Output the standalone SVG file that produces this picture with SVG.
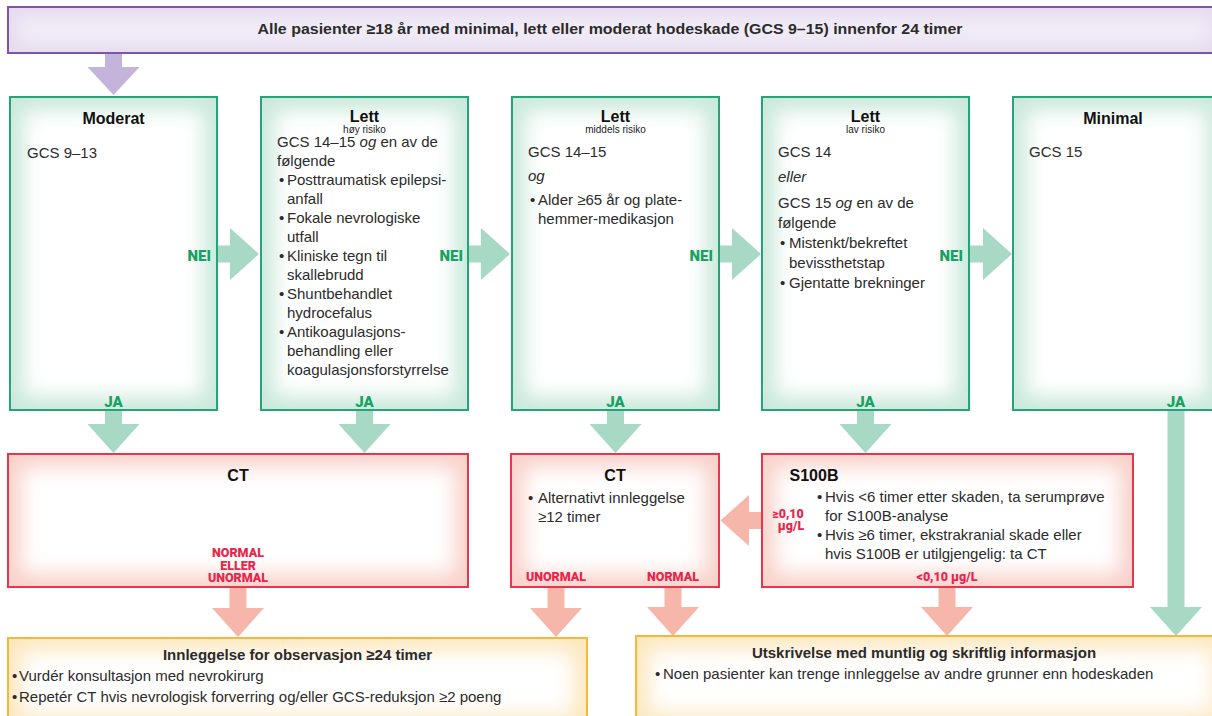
<svg xmlns="http://www.w3.org/2000/svg" width="1212" height="716" viewBox="0 0 1212 716">
<style>
text{font-family:"Liberation Sans",Arial,sans-serif;fill:#2b2b2b;font-size:15px}
.t{font-weight:bold;font-size:16px;fill:#111;text-anchor:middle}
.sub{font-size:10px;fill:#222;text-anchor:middle}
.i{font-style:italic}
.g{font-family:Roboto,"Liberation Sans",sans-serif;font-weight:900;fill:#17a262;font-size:15px}
.r{font-family:Roboto,"Liberation Sans",sans-serif;font-weight:900;fill:#e8254d;font-size:12.5px;text-anchor:middle}
.bg{fill:#c9e9db;filter:url(#ig)}
.br{fill:#f9d2ca;filter:url(#ig)}
.by{fill:#fce8bd;filter:url(#ig)}
.bp{fill:#e6dcf0;filter:url(#igp)}
.og{fill:none;stroke:#27a37a;stroke-width:2}
.or{fill:none;stroke:#e5384f;stroke-width:2}
.oy{fill:none;stroke:#f5b83a;stroke-width:2}
.op{fill:none;stroke:#7a56a8;stroke-width:2}
.ag{fill:#a8d9c5}
.ar{fill:#f6b6a9}
.ap{fill:#c4b4dc}
</style>
<defs>
<filter id="ig" x="0" y="0" width="100%" height="100%">
<feMorphology in="SourceAlpha" operator="erode" radius="14" result="e"/>
<feGaussianBlur in="e" stdDeviation="10" result="b"/>
<feFlood flood-color="#ffffff"/>
<feComposite in2="b" operator="in" result="w"/>
<feMerge><feMergeNode in="SourceGraphic"/><feMergeNode in="w"/></feMerge>
</filter>
<filter id="igp" x="0" y="0" width="100%" height="100%">
<feMorphology in="SourceAlpha" operator="erode" radius="10" result="e"/>
<feGaussianBlur in="e" stdDeviation="8" result="b"/>
<feFlood flood-color="#ffffff" flood-opacity="0.45"/>
<feComposite in2="b" operator="in" result="w"/>
<feMerge><feMergeNode in="SourceGraphic"/><feMergeNode in="w"/></feMerge>
</filter>
</defs>
<rect width="1212" height="716" fill="#fff"/>

<g id="connectors">
<polygon class="ap" points="105,53 122,53 122,67 139.5,67 113.5,95 87.5,67 105,67"/>
<polygon class="ag" points="105,410 122,410 122,424 139.5,424 113.5,453 87.5,424 105,424"/>
<polygon class="ag" points="356,410 373,410 373,424 390.5,424 364.5,453 338.5,424 356,424"/>
<polygon class="ag" points="607,410 624,410 624,424 641.5,424 615.5,453 589.5,424 607,424"/>
<polygon class="ag" points="857,410 874,410 874,424 891.5,424 865.5,453 839.5,424 857,424"/>
<polygon class="ag" points="1167.5,410 1184.5,410 1184.5,607 1202,607 1176,636 1150,607 1167.5,607"/>
<polygon class="ag" points="217,245.5 230,245.5 230,228 259,254 230,280 230,262.5 217,262.5"/>
<polygon class="ag" points="468,245.5 481,245.5 481,228 510,254 481,280 481,262.5 468,262.5"/>
<polygon class="ag" points="719,245.5 732,245.5 732,228 761,254 732,280 732,262.5 719,262.5"/>
<polygon class="ag" points="969,245.5 983,245.5 983,228 1012,254 983,280 983,262.5 969,262.5"/>
<polygon class="ar" points="762,512 749,512 749,495 720.5,520.5 749,546 749,529 762,529"/>
<polygon class="ar" points="229.5,587 246.5,587 246.5,608 264,608 238,637 212,608 229.5,608"/>
<polygon class="ar" points="547.5,587 564.5,587 564.5,608 582,608 556,637 530,608 547.5,608"/>
<polygon class="ar" points="664.5,587 681.5,587 681.5,607 699,607 673,636 647,607 664.5,607"/>
<polygon class="ar" points="938.5,587 955.5,587 955.5,607 973,607 947,636 921,607 938.5,607"/>
</g>

<g id="start">
<rect class="bp" x="8" y="7" width="1212" height="46"/>
<rect class="op" x="8" y="7" width="1212" height="46"/>
<text x="610" y="34" text-anchor="middle" font-weight="bold" font-size="14" fill="#111" textLength="705" lengthAdjust="spacingAndGlyphs">Alle pasienter ≥18 år med minimal, lett eller moderat hodeskade (GCS 9–15) innenfor 24 timer</text>
</g>

<g id="moderat">
<rect class="bg" x="10" y="97" width="207" height="313"/>
<rect class="og" x="10" y="97" width="207" height="313"/>
<text class="t" x="113.5" y="124">Moderat</text>
<text x="27" y="158">GCS 9–13</text>
<text class="g" x="211" y="261" text-anchor="end">NEI</text>
<text class="g" x="113.5" y="407" text-anchor="middle">JA</text>
</g>

<g id="lett-hoy">
<rect class="bg" x="261" y="97" width="207" height="313"/>
<rect class="og" x="261" y="97" width="207" height="313"/>
<text class="t" x="364.5" y="122">Lett</text>
<text class="sub" x="364.5" y="133">høy risiko</text>
<text x="277" y="147">GCS 14–15 <tspan class="i">og</tspan> en av de</text>
<text x="277" y="166">følgende</text>
<text x="279" y="185">•</text><text x="287" y="185">Posttraumatisk epilepsi-</text>
<text x="287" y="204">anfall</text>
<text x="279" y="223">•</text><text x="287" y="223">Fokale nevrologiske</text>
<text x="287" y="242">utfall</text>
<text x="279" y="261">•</text><text x="287" y="261">Kliniske tegn til</text>
<text x="287" y="280">skallebrudd</text>
<text x="279" y="299">•</text><text x="287" y="299">Shuntbehandlet</text>
<text x="287" y="318">hydrocefalus</text>
<text x="279" y="337">•</text><text x="287" y="337">Antikoagulasjons-</text>
<text x="287" y="356">behandling eller</text>
<text x="287" y="375">koagulasjonsforstyrrelse</text>
<text class="g" x="463" y="261" text-anchor="end">NEI</text>
<text class="g" x="364.5" y="407" text-anchor="middle">JA</text>
</g>

<g id="lett-middels">
<rect class="bg" x="512" y="97" width="207" height="313"/>
<rect class="og" x="512" y="97" width="207" height="313"/>
<text class="t" x="615.5" y="122">Lett</text>
<text class="sub" x="615.5" y="133">middels risiko</text>
<text x="528" y="157">GCS 14–15</text>
<text x="528" y="181" class="i">og</text>
<text x="530" y="205">•</text><text x="538" y="205">Alder ≥65 år og plate-</text>
<text x="538" y="224">hemmer-medikasjon</text>
<text class="g" x="713" y="261" text-anchor="end">NEI</text>
<text class="g" x="615.5" y="407" text-anchor="middle">JA</text>
</g>

<g id="lett-lav">
<rect class="bg" x="762" y="97" width="207" height="313"/>
<rect class="og" x="762" y="97" width="207" height="313"/>
<text class="t" x="865.5" y="122">Lett</text>
<text class="sub" x="865.5" y="133">lav risiko</text>
<text x="778" y="157">GCS 14</text>
<text x="778" y="182" class="i">eller</text>
<text x="778" y="208">GCS 15 <tspan class="i">og</tspan> en av de</text>
<text x="778" y="228">følgende</text>
<text x="780" y="248">•</text><text x="789" y="248">Mistenkt/bekreftet</text>
<text x="789" y="268">bevissthetstap</text>
<text x="780" y="288">•</text><text x="789" y="288">Gjentatte brekninger</text>
<text class="g" x="963" y="261" text-anchor="end">NEI</text>
<text class="g" x="865.5" y="407" text-anchor="middle">JA</text>
</g>

<g id="minimal">
<rect class="bg" x="1013" y="97" width="207" height="313"/>
<rect class="og" x="1013" y="97" width="207" height="313"/>
<text class="t" x="1113" y="124">Minimal</text>
<text x="1029" y="157">GCS 15</text>
<text class="g" x="1176" y="407" text-anchor="middle">JA</text>
</g>

<g id="ct-1">
<rect class="br" x="8" y="454" width="460" height="133"/>
<rect class="or" x="8" y="454" width="460" height="133"/>
<text class="t" x="238" y="481">CT</text>
<text class="r" x="238" y="557" font-size="11.5">NORMAL</text>
<text class="r" x="238" y="569.5" font-size="11.5">ELLER</text>
<text class="r" x="238" y="582" font-size="11.5">UNORMAL</text>
</g>

<g id="ct-2">
<rect class="br" x="511" y="454" width="208" height="133"/>
<rect class="or" x="511" y="454" width="208" height="133"/>
<text class="t" x="615" y="481">CT</text>
<text x="528" y="503">•</text><text x="538" y="503">Alternativt innleggelse</text>
<text x="538" y="522">≥12 timer</text>
<text class="r" x="556" y="581">UNORMAL</text>
<text class="r" x="673" y="581">NORMAL</text>
</g>

<g id="s100b">
<rect class="br" x="762" y="454" width="371" height="133"/>
<rect class="or" x="762" y="454" width="371" height="133"/>
<text class="t" x="814" y="481" text-anchor="start">S100B</text>
<text x="817" y="502">•</text><text x="825" y="502">Hvis &lt;6 timer etter skaden, ta serumprøve</text>
<text x="825" y="521">for S100B-analyse</text>
<text x="817" y="540">•</text><text x="825" y="540">Hvis ≥6 timer, ekstrakranial skade eller</text>
<text x="825" y="559">hvis S100B er utilgjengelig: ta CT</text>
<text class="r" x="947" y="581">&lt;0,10 µg/L</text>
<text class="r" x="788" y="518" font-size="11">≥0,10</text>
<text class="r" x="791" y="529.5" font-size="11">µg/L</text>
</g>

<g id="innleggelse">
<rect class="by" x="8" y="638" width="579" height="90"/>
<rect class="oy" x="8" y="638" width="579" height="90"/>
<text x="297.5" y="660" text-anchor="middle" font-weight="bold" fill="#111">Innleggelse for observasjon ≥24 timer</text>
<text x="12" y="681">•</text><text x="19" y="681">Vurdér konsultasjon med nevrokirurg</text>
<text x="12" y="702">•</text><text x="19" y="702">Repetér CT hvis nevrologisk forverring og/eller GCS-reduksjon ≥2 poeng</text>
</g>

<g id="utskrivelse">
<rect class="by" x="636" y="636" width="590" height="90"/>
<rect class="oy" x="636" y="636" width="590" height="90"/>
<text x="924" y="658" text-anchor="middle" font-weight="bold" fill="#111">Utskrivelse med muntlig og skriftlig informasjon</text>
<text x="655" y="679">•</text><text x="663" y="679">Noen pasienter kan trenge innleggelse av andre grunner enn hodeskaden</text>
</g>
</svg>
